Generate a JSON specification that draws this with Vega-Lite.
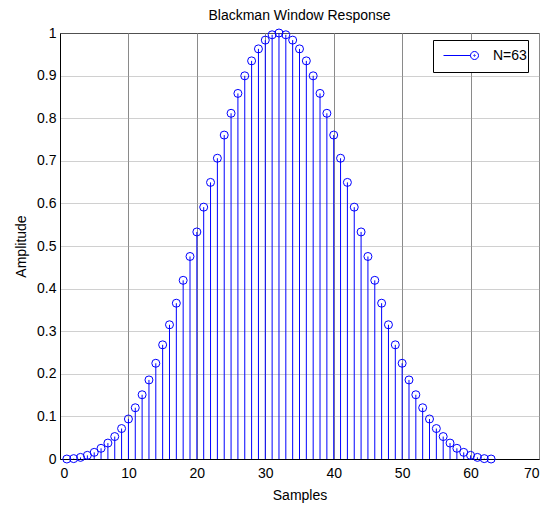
{
  "$schema": "https://vega.github.io/schema/vega-lite/v6.json",
  "width": 479,
  "height": 426,
  "autosize": "none",
  "padding": {"left": 60, "top": 33, "right": 14, "bottom": 47},
  "background": "white",
  "title": {
    "text": "Blackman Window Response",
    "frame": "group",
    "font": "Liberation Sans",
    "fontSize": 14,
    "fontWeight": "normal",
    "color": "black",
    "baseline": "alphabetic",
    "offset": -8
  },
  "data": {
    "values": [
      {"sample": 1, "amp": 0},
      {"sample": 2, "amp": 0.0009},
      {"sample": 3, "amp": 0.0038},
      {"sample": 4, "amp": 0.0086},
      {"sample": 5, "amp": 0.0156},
      {"sample": 6, "amp": 0.0251},
      {"sample": 7, "amp": 0.0374},
      {"sample": 8, "amp": 0.0527},
      {"sample": 9, "amp": 0.0715},
      {"sample": 10, "amp": 0.0939},
      {"sample": 11, "amp": 0.1203},
      {"sample": 12, "amp": 0.1508},
      {"sample": 13, "amp": 0.1856},
      {"sample": 14, "amp": 0.2247},
      {"sample": 15, "amp": 0.268},
      {"sample": 16, "amp": 0.3151},
      {"sample": 17, "amp": 0.3657},
      {"sample": 18, "amp": 0.4194},
      {"sample": 19, "amp": 0.4754},
      {"sample": 20, "amp": 0.533},
      {"sample": 21, "amp": 0.5912},
      {"sample": 22, "amp": 0.6493},
      {"sample": 23, "amp": 0.706},
      {"sample": 24, "amp": 0.7604},
      {"sample": 25, "amp": 0.8115},
      {"sample": 26, "amp": 0.8582},
      {"sample": 27, "amp": 0.8995},
      {"sample": 28, "amp": 0.9346},
      {"sample": 29, "amp": 0.9627},
      {"sample": 30, "amp": 0.9833},
      {"sample": 31, "amp": 0.9958},
      {"sample": 32, "amp": 1},
      {"sample": 33, "amp": 0.9958},
      {"sample": 34, "amp": 0.9833},
      {"sample": 35, "amp": 0.9627},
      {"sample": 36, "amp": 0.9346},
      {"sample": 37, "amp": 0.8995},
      {"sample": 38, "amp": 0.8582},
      {"sample": 39, "amp": 0.8115},
      {"sample": 40, "amp": 0.7604},
      {"sample": 41, "amp": 0.706},
      {"sample": 42, "amp": 0.6493},
      {"sample": 43, "amp": 0.5912},
      {"sample": 44, "amp": 0.533},
      {"sample": 45, "amp": 0.4754},
      {"sample": 46, "amp": 0.4194},
      {"sample": 47, "amp": 0.3657},
      {"sample": 48, "amp": 0.3151},
      {"sample": 49, "amp": 0.268},
      {"sample": 50, "amp": 0.2247},
      {"sample": 51, "amp": 0.1856},
      {"sample": 52, "amp": 0.1508},
      {"sample": 53, "amp": 0.1203},
      {"sample": 54, "amp": 0.0939},
      {"sample": 55, "amp": 0.0715},
      {"sample": 56, "amp": 0.0527},
      {"sample": 57, "amp": 0.0374},
      {"sample": 58, "amp": 0.0251},
      {"sample": 59, "amp": 0.0156},
      {"sample": 60, "amp": 0.0086},
      {"sample": 61, "amp": 0.0038},
      {"sample": 62, "amp": 0.0009},
      {"sample": 63, "amp": 0}
    ]
  },
  "encoding": {
    "x": {
      "field": "sample",
      "type": "quantitative",
      "title": "Samples",
      "scale": {"domain": [0, 70], "nice": false, "zero": false},
      "axis": {
        "values": [0, 10, 20, 30, 40, 50, 60, 70],
        "gridColor": "#8a8a8a",
        "labelPadding": 7,
        "titlePadding": 8
      }
    },
    "y": {
      "field": "amp",
      "type": "quantitative",
      "title": "Amplitude",
      "scale": {"domain": [0, 1], "nice": false},
      "axis": {
        "values": [0, 0.1, 0.2, 0.3, 0.4, 0.5, 0.6, 0.7, 0.8, 0.9, 1],
        "format": ".1~f",
        "gridColor": "#a0a0a0",
        "gridDash": [1, 1],
        "titlePadding": 8
      }
    }
  },
  "layer": [
    {
      "mark": {"type": "rule", "color": "#0000ff", "strokeWidth": 1},
      "encoding": {"y2": {"datum": 0}}
    },
    {
      "mark": {"type": "point", "shape": "circle", "filled": false, "size": 64, "strokeWidth": 1, "opacity": 1},
      "encoding": {
        "color": {
          "datum": "N=63",
          "type": "nominal",
          "scale": {"range": ["#0000ff"]},
          "legend": {
            "title": null,
            "orient": "none",
            "legendX": 373,
            "legendY": 7,
            "symbolType": "M 0 -0.9 M 0 0.9 M -2.214 0 L -0.286 0 M 0.286 0 A 0.286 0.286 0 1 0 -0.286 0 A 0.286 0.286 0 1 0 0.286 0 M 0.05 0 A 0.05 0.05 0 1 0 -0.05 0 A 0.05 0.05 0 1 0 0.05 0",
            "symbolSize": 784,
            "symbolOffset": 26,
            "symbolStrokeWidth": 1,
            "symbolStrokeColor": "#0000ff",
            "symbolFillColor": "transparent",
            "labelFont": "Liberation Sans",
            "labelFontSize": 14,
            "labelColor": "black",
            "labelOffset": 4,
            "padding": 1,
            "strokeColor": "black",
            "fillColor": "white"
          }
        }
      }
    }
  ],
  "config": {
    "view": {"stroke": "black", "strokeWidth": 1},
    "axis": {
      "domainColor": "black",
      "tickColor": "black",
      "ticks": false,
      "labelFont": "Liberation Sans",
      "labelFontSize": 14,
      "labelColor": "black",
      "labelPadding": 4,
      "titleFont": "Liberation Sans",
      "titleFontSize": 14,
      "titleFontWeight": "normal",
      "titleColor": "black",
      "grid": true,
      "gridOpacity": 1,
      "gridWidth": 1
    }
  }
}
